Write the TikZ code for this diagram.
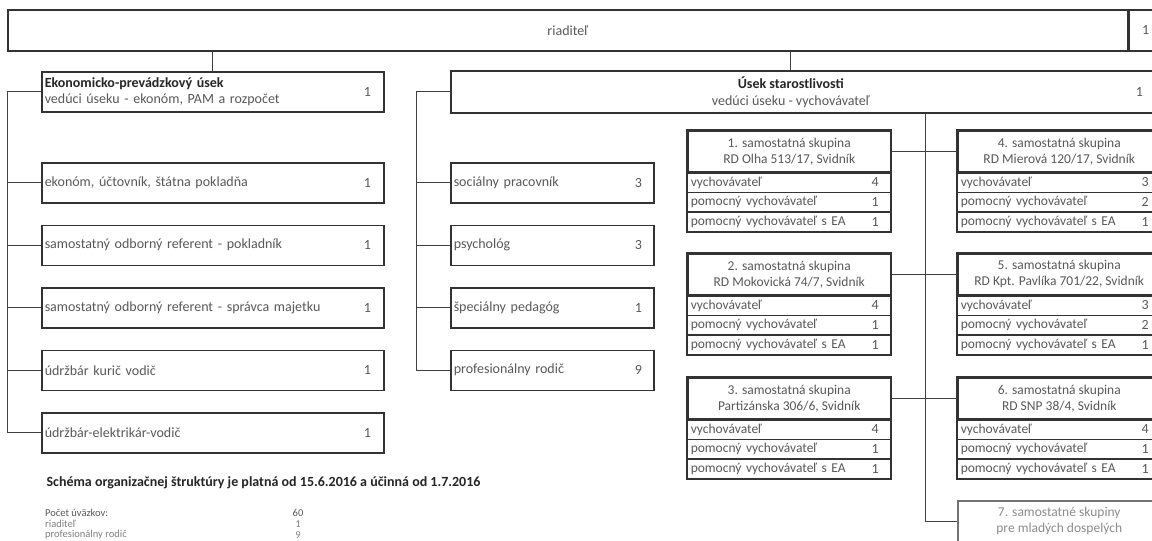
\documentclass[tikz,border=0pt]{standalone}
\usepackage{fontspec}
\setmainfont{Carlito}
\usetikzlibrary{positioning}

\begin{document}
\begin{tikzpicture}[
    x=1pt, y=1pt,
    node distance=21pt and 0pt,
    every node/.style={text=black!65, font=\fontsize{14}{16}\selectfont},
    box/.style={draw=black!80, line width=1.5pt, minimum height=40pt, inner xsep=3pt, inner ysep=1pt},
    ekbox/.style={box, text width=336pt, align=left},
    mbox/.style={box, text width=197pt, align=left},
    grphead/.style={box, minimum width=203pt, minimum height=41pt, align=center, anchor=north west, font=\fontsize{13.5}{16}\selectfont},
    grprow/.style={draw=black!80, line width=0.8pt, minimum height=19pt, text width=197pt, inner xsep=3pt, inner ysep=0pt, align=left, font=\fontsize{13.5}{15}\selectfont},
    num/.style={inner sep=0pt},
    small/.style={inner sep=0pt, font=\fontsize{10.5}{11}\selectfont},
    conn/.style={draw=black!75, line width=0.8pt}
    ]

    \useasboundingbox[fill=white] (0,0) rectangle (1152,-541);

    % riaditel
    \node[box, minimum width=1120pt, minimum height=41pt, anchor=north west] (riad) at (7,-9) {riaditeľ};
    \node[box, minimum width=33pt, minimum height=41pt, right=0pt of riad] (riadn) {1};

    % ekonomicko-prevadzkovy usek
    \node[ekbox, anchor=north west, font=\fontsize{14}{16}\selectfont] (ekon) at (41,-71) {\textbf{\color{black!85}Ekonomicko-prevádzkový úsek}\\vedúci úseku - ekonóm, PAM a rozpočet};
    \node[ekbox, anchor=north west] (ek1) at (41,-162) {ekonóm, účtovník, štátna pokladňa};
    \node[ekbox, below=of ek1] (ek2) {samostatný odborný referent - pokladník};
    \node[ekbox, below=of ek2] (ek3) {samostatný odborný referent - správca majetku};
    \node[ekbox, below=of ek3] (ek4) {údržbár kurič vodič};
    \node[ekbox, below=of ek4] (ek5) {údržbár-elektrikár-vodič};
    \node[num] at ([xshift=-17pt]ekon.east) {1};
    \foreach \i in {1,...,5}
        \node[num] at ([xshift=-17pt]ek\i.east) {1};

    % usek starostlivosti
    \node[box, minimum width=710pt, minimum height=42pt, anchor=north west] (usek) at (450,-70) {};
    \node[align=center, font=\fontsize{14}{17}\selectfont] (usektxt) at ([xshift=-15pt]usek.center) {\textbf{\color{black!85}Úsek starostlivosti}\\vedúci úseku - vychovávateľ};
    \node[num] at ([xshift=-22pt]usek.east) {1};

    \node[mbox, anchor=north west] (m1) at (450,-162) {sociálny pracovník};
    \node[mbox, below=of m1] (m2) {psychológ};
    \node[mbox, below=of m2] (m3) {špeciálny pedagóg};
    \node[mbox, below=of m3] (m4) {profesionálny rodič};
    \foreach \i/\n in {1/3,2/3,3/1,4/9}
        \node[num] at ([xshift=-16pt]m\i.east) {\n};

    % samostatne skupiny
    \foreach \g/\x/\y/\hA/\hB/\na/\nb/\nc in {
        1/687/130/{1. samostatná skupina}/{RD Olha 513/17, Svidník}/4/1/1,
        2/687/253/{2. samostatná skupina}/{RD Mokovická 74/7, Svidník}/4/1/1,
        3/687/377/{3. samostatná skupina}/{Partizánska 306/6, Svidník}/4/1/1,
        4/957/130/{4. samostatná skupina}/{RD Mierová 120/17, Svidník}/3/2/1,
        5/957/253/{5. samostatná skupina}/{RD Kpt. Pavlíka 701/22, Svidník}/3/2/1,
        6/957/377/{6. samostatná skupina}/{RD SNP 38/4, Svidník}/4/1/1}{
        \node[grphead] (g\g) at (\x,-\y) {\hA\\\hB};
        \node[grprow, below=0pt of g\g] (g\g-a) {vychovávateľ};
        \node[grprow, below=0pt of g\g-a] (g\g-b) {pomocný vychovávateľ};
        \node[grprow, below=0pt of g\g-b] (g\g-c) {pomocný vychovávateľ s EA};
        \node[num] at ([xshift=-16pt]g\g-a.east) {\na};
        \node[num] at ([xshift=-16pt]g\g-b.east) {\nb};
        \node[num] at ([xshift=-16pt]g\g-c.east) {\nc};
        \draw[draw=black!80, line width=1.5pt] (g\g.north west) rectangle (g\g-c.south east);
    }
    \node[grphead, text=black!45, draw=black!55] (g7) at (957,-500) {7. samostatné skupiny\\pre mladých dospelých};

    % connectors
    \draw[conn] (riad.south -| ekon.north) -- (ekon.north);
    \coordinate (usektop) at (790,-70);
    \draw[conn] (riad.south -| usektop) -- (usektop);

    \coordinate (lbar) at (7,0);
    \draw[conn] (ekon.west) -- (ekon.west -| lbar) |- (ek5.west);
    \foreach \i in {1,...,4}
        \draw[conn] (ek\i.west -| lbar) -- (ek\i.west);

    \coordinate (mbar) at (416,0);
    \draw[conn] (usek.west) -- (usek.west -| mbar) |- (m4.west);
    \foreach \i in {1,...,3}
        \draw[conn] (m\i.west -| mbar) -- (m\i.west);

    \coordinate (rbar) at (925,0);
    \draw[conn] (usek.south -| rbar) |- (g7.west);
    \foreach \l/\r in {1/4,2/5,3/6}
        \draw[conn] (g\l.east) -- (g\r.west);

    % pocet uvazkov
    \node[anchor=west] (schema) at (43,-483) {\textbf{\color{black!85}Schéma organizačnej štruktúry je platná od 15.6.2016 a účinná od 1.7.2016}};
    \node[small, anchor=west] (pocet) at (45,-513) {Počet úväzkov:};
    \node[small, anchor=west, text=black!50] (priad) at (45,-524) {riaditeľ};
    \node[small, anchor=west, text=black!50] (prod) at (45,-535) {profesionálny rodič};
    \node[small] (pocetn) at (298,-513) {60};
    \node[small, text=black!50] (priadn) at (298,-524) {1};
    \node[small, text=black!50] (prodn) at (298,-535) {9};

\end{tikzpicture}
\end{document}
